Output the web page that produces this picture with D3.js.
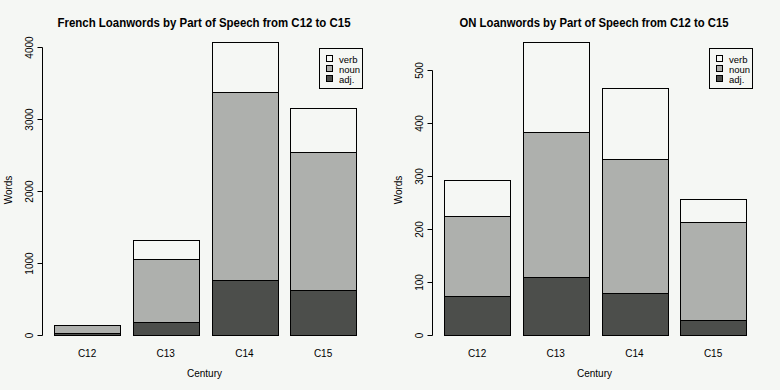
<!DOCTYPE html>
<html><head><meta charset="utf-8">
<script src="https://cdn.jsdelivr.net/npm/d3@7"></script>
<style>
html,body{margin:0;padding:0;background:#F5F7F4;}
svg{display:block;font-family:"Liberation Sans",Arial,Helvetica,sans-serif;}
</style></head>
<body>
<svg id="chart" width="780" height="390"></svg>
<script>
const centuries = ["C12","C13","C14","C15"];
const seriesNames = ["adj.","noun","verb"];
// French loanwords
const frenchAdj  = [20, 171, 751, 612];
const frenchNoun = [110, 872, 2615, 1923];
const frenchVerb = [8, 264, 695, 608];
// Old Norse loanwords
const onAdj  = [72, 108, 79, 28];
const onNoun = [151, 275, 253, 184];
const onVerb = [69, 168, 134, 44];
const frenchTicks = [0, 1000, 2000, 3000, 4000];
const onTicks = [0, 100, 200, 300, 400, 500];
const colors = {"adj.":"#4C4E4B","noun":"#AEB0AD","verb":"#F5F7F4"};

const svg = d3.select("#chart");
svg.append("rect").attr("width",780).attr("height",390).attr("fill","#F5F7F4");

function panel(ox, title, adj, noun, verb, ticks, titleLen) {
  const g = svg.append("g").attr("transform", `translate(${ox},0)`);
  const x = d3.scaleBand().domain(centuries).range([47.75, 362.4]).paddingInner(1/6).paddingOuter(1/12);
  const y = d3.scaleLinear().domain([0, ticks[ticks.length-1]]).range([334.5, ox === 0 ? 46.7 : 69.5]);
  const rows = centuries.map((c,i)=>({c, "adj.":adj[i], noun:noun[i], verb:verb[i]}));
  const stacked = d3.stack().keys(seriesNames)(rows);
  stacked.forEach(layer=>{
    g.append("g").selectAll("rect").data(layer).join("rect")
      .attr("x", d=>Math.round(x(d.data.c))+0.5)
      .attr("width", Math.round(x.bandwidth()))
      .attr("y", d=>Math.round(y(d[1]))+0.5)
      .attr("height", d=>Math.max(0, Math.round(y(d[0]))-Math.round(y(d[1]))))
      .attr("fill", colors[layer.key])
      .attr("stroke","#000").attr("stroke-width",1);
  });
  // y axis
  const ax = g.append("g").attr("transform","translate(42.5,0)");
  ax.append("line").attr("x1",0).attr("x2",0)
    .attr("y1", Math.round(y(ticks[0]))+0.5).attr("y2", Math.round(y(ticks[ticks.length-1]))+0.5)
    .attr("stroke","#000");
  ticks.forEach(t=>{
    const yy = Math.round(y(t))+0.5;
    ax.append("line").attr("x1",-5).attr("x2",0).attr("y1",yy).attr("y2",yy).attr("stroke","#000");
    ax.append("text").attr("transform",`translate(-9.5,${yy}) rotate(-90)`)
      .attr("text-anchor","middle").attr("font-size",10).attr("fill","#000").text(t);
  });
  // x labels
  g.append("g").selectAll("text").data(centuries).join("text")
    .attr("x", d=>x(d)+x.bandwidth()/2).attr("y",357)
    .attr("text-anchor","middle").attr("font-size",10).attr("fill","#000").text(d=>d);
  g.append("text").attr("x",204.5).attr("y",377).attr("text-anchor","middle")
    .attr("font-size",10).attr("fill","#000").text("Century");
  g.append("text").attr("transform","translate(12,190) rotate(-90)")
    .attr("text-anchor","middle").attr("font-size",10).attr("fill","#000").text("Words");
  g.append("text").attr("x",204).attr("y",27).attr("text-anchor","middle")
    .attr("font-size",12).attr("font-weight","bold").attr("fill","#000")
    .attr("textLength",titleLen).attr("lengthAdjust","spacingAndGlyphs").text(title);
  // legend
  const lg = g.append("g");
  lg.append("rect").attr("x",319.5).attr("y",48.5).attr("width",43).attr("height",40)
    .attr("fill","#F5F7F4").attr("stroke","#000");
  ["verb","noun","adj."].forEach((k,i)=>{
    lg.append("rect").attr("x",326.5).attr("y",55.5+i*10).attr("width",6).attr("height",6)
      .attr("fill",colors[k]).attr("stroke","#000");
    lg.append("text").attr("x",339).attr("y",62.5+i*10.3).attr("font-size",9.5).attr("fill","#000").text(k);
  });
}
panel(0, "French Loanwords by Part of Speech from C12 to C15", frenchAdj, frenchNoun, frenchVerb, frenchTicks, 293);
panel(390, "ON Loanwords by Part of Speech from C12 to C15", onAdj, onNoun, onVerb, onTicks, 269);
</script>
</body></html>
